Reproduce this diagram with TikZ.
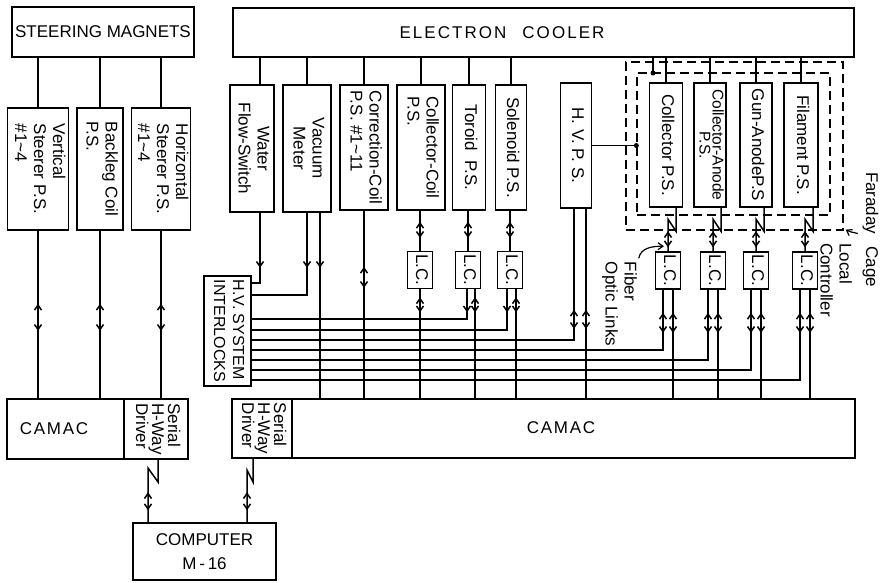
\documentclass[tikz,border=0pt]{standalone}
\usepackage{fontspec}
\setmainfont{Liberation Sans}
\usepackage{graphicx}
\usetikzlibrary{arrows.meta,decorations.markings}

\newcommand{\vtext}[2][l]{\rotatebox{-90}{\begin{tabular}{@{}#1@{}}#2\end{tabular}}}

\tikzset{
  box/.style={draw, line width=1.6pt, inner sep=0pt},
  lcbox/.style={box, minimum width=25, minimum height=37},
  cage/.style={draw, line width=1.3pt, dash pattern=on 9pt off 5pt},
  dot/.style={circle, fill, inner sep=0pt, minimum size=5pt},
  ud/.style 2 args={postaction={decorate,decoration={markings,
      mark=at position #1 with {\arrowreversed{>}},
      mark=at position #2 with {\arrow{>}}}}},
  dn/.style={postaction={decorate,decoration={markings,
      mark=at position #1 with {\arrow{>}}}}},
}

\begin{document}
\begin{tikzpicture}[x=1pt, y=-1pt, line width=1.5pt,
  font=\fontsize{17}{19}\selectfont,
  >={Straight Barb[length=5pt,width=7pt]}]
\useasboundingbox (0,0) rectangle (883,582);

% steering magnets
\node[box, minimum width=182, minimum height=50] (sm) at (103,32) {STEERING MAGNETS};
\node[box, minimum width=61, minimum height=122] (vs) at (38,169)
  {\vtext{Vertical\\Steerer P.S.\\\#1\textasciitilde4}};
\node[box, minimum width=46, minimum height=122] (bc) at (100,169)
  {\vtext{Backleg Coil\\P.S.}};
\node[box, minimum width=59, minimum height=122] (hs) at (161,169)
  {\vtext{Horizontal\\Steerer P.S.\\\#1\textasciitilde4}};
\node[box, minimum width=117, minimum height=60] (camL) at (65.5,429) {};
\node at (54,429) {\addfontfeature{LetterSpace=10}CAMAC};
\node[box, minimum width=64, minimum height=60] (drvL) at (156,429)
  {\vtext{Serial\\[-3pt]H-Way\\[-3pt]Driver}};
\node[box, minimum width=143, minimum height=57, align=center] (cmp) at (204.5,551.5)
  {COMPUTER\\[5pt]M\,-\,16};

% electron cooler
\node[box, minimum width=621, minimum height=49] (ec) at (543.5,32.5) {};
\node at (502,33) {\addfontfeature{LetterSpace=12}ELECTRON\hspace{16pt}COOLER};
\node[box, minimum width=44, minimum height=127] (wfs) at (252,148.5)
  {\vtext[c]{Water\\Flow-Switch}};
\node[box, minimum width=48, minimum height=127] (vm) at (307,148.5)
  {\vtext[c]{Vacuum\\Meter}};
\node[box, minimum width=48, minimum height=125] (cc) at (364,147.5)
  {\vtext{Correction-Coil\\P.S. \#1\textasciitilde11}};
\node[box, minimum width=48, minimum height=125] (clc) at (421,147.5)
  {\vtext{Collector-Coil\\P.S.}};
\node[box, minimum width=33, minimum height=125] (tor) at (469,147.5)
  {\vtext{Toroid\ \ P.S.}};
\node[box, minimum width=31, minimum height=125] (sol) at (511,147.5)
  {\vtext{Solenoid P.S.}};
\node[box, minimum width=31, minimum height=125] (hv) at (576,145.5)
  {\vtext{H. V. P. S.}};

% faraday cage
\node[cage, minimum width=217, minimum height=168] (cgo) at (734.5,146) {};
\node[cage, minimum width=193, minimum height=142] (cgi) at (733.5,144) {};
\node[box, minimum width=33, minimum height=124] (col) at (666,145)
  {\vtext{Collector P.S.}};
\node[box, minimum width=32, minimum height=124] (can) at (710,145)
  {\fontsize{15.5}{19}\selectfont\vtext[c]{Collector-Anode\\[-6pt]P.S.}};
\node[box, minimum width=32, minimum height=124] (gan) at (756,145)
  {\vtext{Gun-AnodeP.S}};
\node[box, minimum width=34, minimum height=124] (fil) at (801,145)
  {\vtext{Filament P.S.}};

% local controllers
\node[lcbox] (lcclc) at (420,270) {\vtext{L.C.}};
\node[lcbox] (lctor) at (468,270) {\vtext{L.C.}};
\node[lcbox] (lcsol) at (510,270) {\vtext{L.C.}};
\node[lcbox] (lccol) at (668,270.5) {\vtext{L.C.}};
\node[lcbox] (lccan) at (713,270.5) {\vtext{L.C.}};
\node[lcbox] (lcgan) at (756,270.5) {\vtext{L.C.}};
\node[lcbox] (lcfil) at (805,270.5) {\vtext{L.C.}};

\node[box, minimum width=47, minimum height=110, font=\fontsize{16}{19}\selectfont]
  (hvi) at (227.5,331) {\vtext{H.V. SYSTEM\\INTERLOCKS}};
\node[box, minimum width=60, minimum height=59] (drvR) at (262,428.5)
  {\vtext{Serial\\[-3pt]H-Way\\[-3pt]Driver}};
\node[box, minimum width=563, minimum height=59] (camR) at (573.5,428.5) {};
\node at (561,428) {\addfontfeature{LetterSpace=10}CAMAC};

% bus levels
\coordinate (yw) at (0,283);
\coordinate (yv) at (0,295);
\coordinate (y1) at (0,319);
\coordinate (y2) at (0,330);
\coordinate (y3) at (0,340);
\coordinate (y4) at (0,350);
\coordinate (y5) at (0,360);
\coordinate (y6) at (0,370);
\coordinate (y7) at (0,380);

% steering side wires
\foreach \b in {vs,bc,hs}{
  \draw (sm.south -| \b.north) -- (\b.north);
  \draw[ud={73pt}{100pt}] (\b.south) -- (\b.south |- camL.north);
}
\draw[ud={12pt}{30pt}] (cmp.north -| 148,0) -- (148,468) -- ++(10,14) coordinate (zl)
  -- (zl |- drvL.south);
\draw[ud={12pt}{30pt}] (cmp.north -| 247,0) -- (247,470) -- ++(6,12) coordinate (zr)
  -- (zr |- drvR.south);

% cooler wires
\coordinate (wx) at ([xshift=8pt]wfs.south);
\draw (ec.south -| wx) -- (wx |- wfs.north);
\foreach \b in {vm,cc,clc,tor,sol,col,can,gan,fil}
  \draw (ec.south -| \b.north) -- (\b.north);
\draw[dn=55pt] (wx) |- (hvi.east |- yw);
\draw[dn=55pt] (vm.south) |- (hvi.east |- yv);
\coordinate (vr) at ([xshift=13pt]vm.south);
\draw[dn=55pt] (vr) -- (vr |- camR.north);
\draw[ud={56pt}{77pt}] (cc.south) -- (cc.south |- camR.north);

\draw[ud={11pt}{27pt}] (clc.south -| lcclc.north) -- (lcclc.north);
\draw[ud={8pt}{23pt}] (lcclc.south) -- (lcclc.south |- camR.north);
\foreach \p/\l/\a/\b/\y in {tor/lctor/-1/7/y1, sol/lcsol/-3/6/y2}{
  \draw[ud={11pt}{27pt}] (\p.south -| \l.north) -- (\l.north);
  \draw[dn=23pt] ([xshift=\a pt]\l.south) |- (hvi.east |- \y);
  \coordinate (q) at ([xshift=\b pt]\l.south);
  \draw[ud={8pt}{23pt}] (q) -- (q |- camR.north);
}

\coordinate (hl) at ([xshift=-2pt]hv.south);
\coordinate (hr) at ([xshift=10pt]hv.south);
\draw[ud={101pt}{120pt}] (hl) |- (hvi.east |- y3);
\draw[ud={101pt}{120pt}] (hr) -- (hr |- camR.north);

\draw (hv.east) -- (hv.east -| cgi.west) node[dot] {};
\coordinate (tap) at (653,73);
\draw (ec.south -| tap) -- (tap) node[dot] {};

\foreach \p/\l/\y in {col/lccol/y4, can/lccan/y5, gan/lcgan/y6, fil/lcfil/y7}{
  \draw[ud={4pt}{20pt}] (\l.north) -- ++(0,-32) -- ++(8,12) coordinate (z)
    -- (z |- \p.south);
  \draw[ud={23pt}{43pt}] ([xshift=-5pt]\l.south) |- (hvi.east |- \y);
  \coordinate (q) at ([xshift=5pt]\l.south);
  \draw[ud={23pt}{43pt}] (q) -- (q |- camR.north);
}

% labels
\node[inner sep=0pt] (far) at (870,229.5) {\vtext{Faraday\hspace{12pt}Cage}};
\node[inner sep=0pt] (loc) at (834,280) {\vtext{Local\\Controller}};
\node[inner sep=0pt] (fib) at (619,304) {\vtext{Fiber\\Optic Links}};
\draw[->, line width=1.2pt] ([xshift=-2pt,yshift=-4pt]far.west) to[out=165,in=-30]
  ([xshift=2pt,yshift=1pt]cgo.south east);
\draw[->, line width=1.2pt] ([yshift=3pt]fib.north east) to[out=80,in=180]
  ([xshift=-4pt,yshift=5pt]lccol.north);
\end{tikzpicture}
\end{document}
